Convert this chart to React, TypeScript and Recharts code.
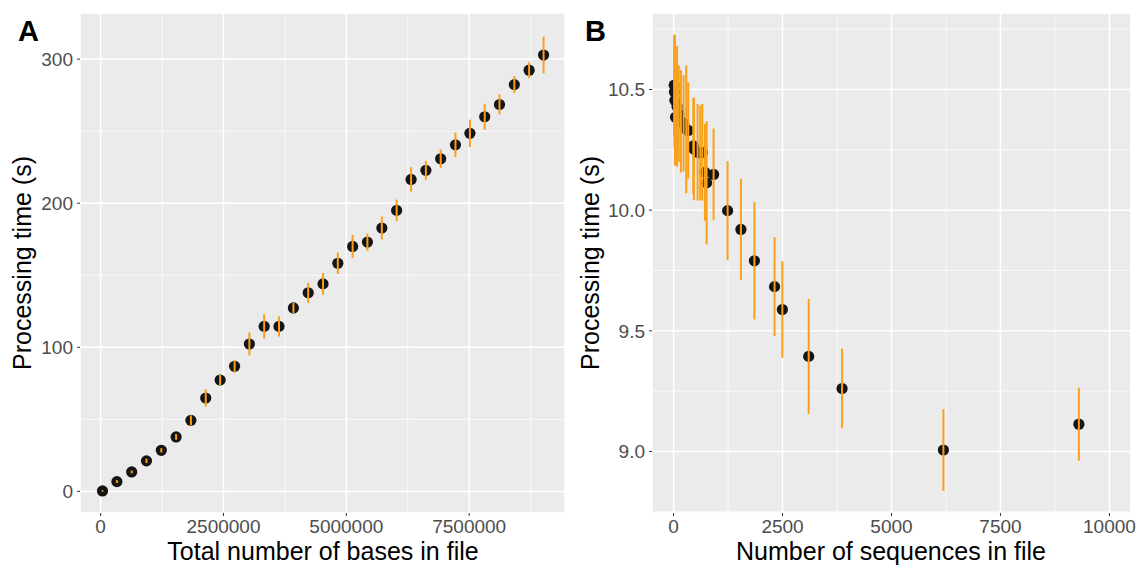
import React from "react";
import {
  ErrorBar,
  ReferenceLine,
  Scatter,
  ScatterChart,
  XAxis,
  YAxis,
  CartesianGrid,
} from "recharts";

// Panel A: total number of bases vs processing time
const basesX = [
  37650, 331000, 632000, 933000, 1235000, 1536000, 1837000, 2139000, 2432000,
  2726000, 3027000, 3328000, 3630000, 3923000, 4224000, 4526000, 4827000,
  5128000, 5429000, 5723000, 6024000, 6318000, 6619000, 6920000, 7221000,
  7515000, 7816000, 8117000, 8419000, 8720000, 9014000,
];
const basesTime = [
  0.3, 6.8, 13.5, 21.2, 28.5, 37.8, 49.3, 64.8, 77.3, 86.8, 102.3, 114.5,
  114.5, 127.3, 137.8, 144, 158.3, 170, 173, 182.8, 195, 216.5, 222.8, 230.8,
  240.5, 248.5, 260, 268.5, 282.3, 292.3, 302.8,
];
const basesErr = [
  0.5, 1, 1, 1.5, 1.5, 2, 3.5, 6, 3.5, 4.5, 8, 8.5, 7, 3.5, 7, 7.5, 7.5, 8, 6,
  8, 7.5, 8.5, 6.5, 6.5, 8.5, 9.5, 9, 7, 6, 5.5, 12.7,
];

// Panel B: number of sequences vs processing time
const seqX = [
  15, 20, 30, 45, 80, 120, 168, 230, 291, 337, 452, 467, 551, 612, 659, 719,
  758, 918, 1240, 1545, 1855, 2317, 2496, 3100, 3866, 6191, 9299,
];
const seqTime = [
  10.518, 10.49, 10.455, 10.385, 10.43, 10.4, 10.368, 10.36, 10.335, 10.33,
  10.266, 10.253, 10.24, 10.237, 10.24, 10.157, 10.113, 10.148, 9.998, 9.92,
  9.79, 9.683, 9.588, 9.394, 9.261, 9.006, 9.113,
];
const seqErr = [
  0.21, 0.23, 0.27, 0.2, 0.25, 0.2, 0.212, 0.2, 0.265, 0.2, 0.2, 0.212, 0.2,
  0.197, 0.2, 0.2, 0.255, 0.19, 0.205, 0.21, 0.243, 0.205, 0.2, 0.238, 0.165,
  0.169, 0.151,
];

// Axis ticks (major) and minor grid values
const basesTicks = [0, 2500000, 5000000, 7500000];
const basesMinor = [1250000, 3750000, 6250000, 8750000];
const basesTimeTicks = [0, 100, 200, 300];
const basesTimeMinor = [50, 150, 250];

const seqTicks = [0, 2500, 5000, 7500, 10000];
const seqMinor = [1250, 3750, 6250, 8750];
const seqTimeTicks = [9.0, 9.5, 10.0, 10.5];
const seqTimeMinor = [8.75, 9.25, 9.75, 10.25, 10.75];

const dataA = basesX.map((x, i) => ({ x, y: basesTime[i], err: basesErr[i] }));
const dataB = seqX.map((x, i) => ({ x, y: seqTime[i], err: seqErr[i] }));

const FONT = "'Liberation Sans', Arial, Helvetica, sans-serif";
const ORANGE = "#F8A01C";

const tickStyle = {
  fontSize: 19,
  fill: "#4D4D4D",
  fontFamily: FONT,
};

const Dot = (props: any) => (
  <circle cx={props.cx} cy={props.cy} r={5.6} fill="#151515" />
);

const Nothing = () => <g />;

type PanelProps = {
  data: { x: number; y: number; err: number }[];
  width: number;
  yWidth: number;
  right: number;
  xDomain: [number, number];
  yDomain: [number, number];
  xTicks: number[];
  yTicks: number[];
  xMinor: number[];
  yMinor: number[];
  yFormat?: (v: number) => string;
  bars?: boolean;
};

// bars=false: background, grid, axes and points
// bars=true: same plot area, only the error bars (stacked on top)
function Panel({
  data,
  width,
  yWidth,
  right,
  xDomain,
  yDomain,
  xTicks,
  yTicks,
  xMinor,
  yMinor,
  yFormat,
  bars,
}: PanelProps) {
  return (
    <ScatterChart
      width={width}
      height={565}
      margin={{ top: 13, right, bottom: 0, left: 0 }}
    >
      {!bars && (
        <CartesianGrid fill="#EBEBEB" stroke="#FFFFFF" strokeWidth={1.5} />
      )}
      {!bars &&
        xMinor.map((v) => (
          <ReferenceLine key={"x" + v} x={v} stroke="#FFFFFF" strokeWidth={0.7} />
        ))}
      {!bars &&
        yMinor.map((v) => (
          <ReferenceLine key={"y" + v} y={v} stroke="#FFFFFF" strokeWidth={0.7} />
        ))}
      <XAxis
        type="number"
        dataKey="x"
        domain={xDomain}
        ticks={xTicks}
        allowDataOverflow
        height={52}
        axisLine={false}
        tickSize={3}
        tickMargin={4}
        tickLine={bars ? false : { stroke: "#333333" }}
        tick={bars ? false : tickStyle}
        interval={0}
      />
      <YAxis
        type="number"
        dataKey="y"
        domain={yDomain}
        ticks={yTicks}
        allowDataOverflow
        width={yWidth}
        axisLine={false}
        tickSize={3}
        tickMargin={4}
        tickLine={bars ? false : { stroke: "#333333" }}
        tick={bars ? false : tickStyle}
        tickFormatter={yFormat}
        interval={0}
      />
      {!bars && <Scatter data={data} shape={Dot} isAnimationActive={false} />}
      {bars && (
        <Scatter data={data} shape={Nothing} isAnimationActive={false}>
          <ErrorBar
            dataKey="err"
            direction="y"
            width={0}
            stroke={ORANGE}
            strokeWidth={2}
            isAnimationActive={false}
          />
        </Scatter>
      )}
    </ScatterChart>
  );
}

const panelA = {
  data: dataA,
  width: 580,
  yWidth: 80,
  right: 15,
  xDomain: [-420000, 9450000] as [number, number],
  yDomain: [-15, 332] as [number, number],
  xTicks: basesTicks,
  yTicks: basesTimeTicks,
  xMinor: basesMinor,
  yMinor: basesTimeMinor,
};

const panelB = {
  data: dataB,
  width: 558,
  yWidth: 72,
  right: 7,
  xDomain: [-495, 10495] as [number, number],
  yDomain: [8.745, 10.817] as [number, number],
  xTicks: seqTicks,
  yTicks: seqTimeTicks,
  xMinor: seqMinor,
  yMinor: seqTimeMinor,
  yFormat: (v: number) => v.toFixed(1),
};

const layer = (left: number): React.CSSProperties => ({
  position: "absolute",
  left,
  top: 0,
});

export default function App() {
  return (
    <div
      style={{
        position: "absolute",
        left: 0,
        top: 0,
        width: 1138,
        height: 565,
        background: "#FFFFFF",
      }}
    >
      <div style={layer(0)}>
        <Panel {...panelA} />
      </div>
      <div style={layer(0)}>
        <Panel {...panelA} bars />
      </div>
      <div style={layer(580)}>
        <Panel {...panelB} />
      </div>
      <div style={layer(580)}>
        <Panel {...panelB} bars />
      </div>
      <svg
        width={1138}
        height={565}
        style={{ position: "absolute", left: 0, top: 0, pointerEvents: "none" }}
        fontFamily={FONT}
      >
        <text x={18} y={41} fontSize={29} fontWeight="bold" fill="#000">
          A
        </text>
        <text x={585} y={41} fontSize={29} fontWeight="bold" fill="#000">
          B
        </text>
        <text x={323} y={560} fontSize={25} textAnchor="middle" fill="#000">
          Total number of bases in file
        </text>
        <text x={891} y={560} fontSize={25} textAnchor="middle" fill="#000">
          Number of sequences in file
        </text>
        <text
          x={31}
          y={263}
          fontSize={25}
          textAnchor="middle"
          fill="#000"
          transform="rotate(-90 31 263)"
        >
          Processing time (s)
        </text>
        <text
          x={599}
          y={263}
          fontSize={25}
          textAnchor="middle"
          fill="#000"
          transform="rotate(-90 599 263)"
        >
          Processing time (s)
        </text>
      </svg>
    </div>
  );
}
